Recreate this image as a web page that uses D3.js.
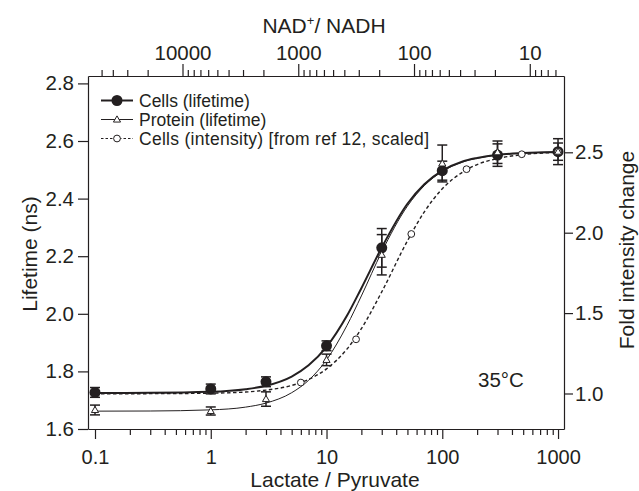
<!DOCTYPE html>
<html>
<head>
<meta charset="utf-8">
<script src="https://cdn.jsdelivr.net/npm/d3@7"></script>
<style>
  body { margin: 0; background: #fff; }
  svg text { font-family: "Liberation Sans", Arial, sans-serif; fill: #231f20; }
</style>
</head>
<body>
<svg id="chart"></svg>
<script>
// Measured points (lactate / pyruvate ratio on x)
const lacPyr = [0.1, 1, 3, 10, 30, 100, 300, 1000]
const cellsLifetime = [1.727, 1.739, 1.764, 1.889, 2.229, 2.497, 2.551, 2.563]
const cellsErr = [0.017, 0.017, 0.017, 0.017, 0.067, 0.033, 0.039, 0.045]
const proteinLifetime = [1.666, 1.6625, 1.704, 1.840, 2.205, 2.522, 2.561, 2.563]
const proteinErr = [0.017, 0.014, 0.025, 0.02, 0.07, 0.064, 0.039, 0.03]

// Intensity data from ref 12 (fold change, right axis)
const intensityRatio = [6, 18, 54, 162, 486, 1000]
const intensityFold = [1.068, 1.337, 1.992, 2.395, 2.488, 2.504]

// Fitted curves
const fitX = [0.1, 0.3, 1, 2, 3, 5, 7, 10, 15, 20, 30, 50, 70, 100, 150, 200, 300, 500, 1000]
const cellsFit = [1.725, 1.7255, 1.729, 1.738, 1.750, 1.782, 1.821, 1.885, 1.993, 2.089, 2.230, 2.382, 2.450, 2.497, 2.529, 2.541, 2.552, 2.558, 2.562]
const proteinFit = [1.662, 1.6625, 1.6665, 1.676, 1.690, 1.726, 1.769, 1.840, 1.959, 2.062, 2.215, 2.374, 2.445, 2.494, 2.527, 2.540, 2.551, 2.558, 2.562]
const intensityFit = [0.998, 0.999, 1.002, 1.009, 1.021, 1.050, 1.088, 1.153, 1.276, 1.403, 1.632, 1.949, 2.130, 2.273, 2.377, 2.424, 2.461, 2.486, 2.499]

// Axis ticks
const xLabels = [0.1, 1, 10, 100, 1000]
const topLabels = [10000, 1000, 100, 10]
const leftTicks = [1.6, 1.8, 2.0, 2.2, 2.4, 2.6, 2.8]
const rightTicks = [1.0, 1.5, 2.0, 2.5]
const nadConstant = 5700 // NAD+/NADH = k / (lactate/pyruvate)

const legendItems = ["Cells (lifetime)", "Protein (lifetime)", "Cells (intensity) [from ref 12, scaled]"]

const width = 639
const height = 491
const margin = { top: 76, right: 75, bottom: 62, left: 88 }
const innerW = width - margin.left - margin.right
const innerH = height - margin.top - margin.bottom

const svg = d3.select("#chart")
  .attr("width", width)
  .attr("height", height)

const g = svg.append("g")
  .attr("transform", `translate(${margin.left},${margin.top})`)

// Scales
const x = d3.scaleLog().domain([0.087, 1126]).range([0, innerW])
const xTop = d3.scaleLog().domain([nadConstant / 0.087, nadConstant / 1126]).range([0, innerW])
const y = d3.scaleLinear().domain([1.6, 2.8257]).range([innerH, 0])
const y2 = d3.scaleLinear().domain([0.7792, 2.9745]).range([innerH, 0])

// log minor ticks helper
const logTicks = (lo, hi) => {
  const out = []
  for (let e = Math.floor(Math.log10(lo)); e <= Math.ceil(Math.log10(hi)); e++) {
    for (let m = 1; m < 10; m++) {
      const v = m * Math.pow(10, e)
      if (v >= lo * 0.999 && v <= hi * 1.001) out.push(+v.toPrecision(6))
    }
  }
  return out
}
const isMajor = v => Math.abs(Math.log10(v) - Math.round(Math.log10(v))) < 1e-6

// Bottom axis
g.append("g")
  .attr("transform", `translate(0,${innerH})`)
  .call(d3.axisBottom(x)
    .tickValues(logTicks(0.1, 1000))
    .tickSize(10)
    .tickSizeOuter(0)
    .tickFormat(d => xLabels.includes(d) ? String(d) : ""))
  .call(ax => ax.selectAll(".tick line").attr("y2", d => isMajor(d) ? 10 : 6))
  .call(ax => ax.selectAll(".tick text").attr("y", 21).attr("font-size", 20))

// Top axis (NAD+/NADH)
g.append("g")
  .call(d3.axisTop(xTop)
    .tickValues(logTicks(6, 50000))
    .tickSize(12)
    .tickSizeOuter(0)
    .tickFormat(d => topLabels.includes(d) ? String(d) : ""))
  .call(ax => ax.selectAll(".tick line").attr("y2", d => isMajor(d) ? -12 : -6))
  .call(ax => ax.selectAll(".tick text").attr("y", -16).attr("font-size", 20.5))

// Left axis
g.append("g")
  .call(d3.axisLeft(y)
    .tickValues(leftTicks)
    .tickSize(10)
    .tickPadding(4)
    .tickSizeOuter(0)
    .tickFormat(d3.format(".1f")))
  .call(ax => ax.selectAll(".tick text").attr("font-size", 20.5))

// Right axis
g.append("g")
  .attr("transform", `translate(${innerW},0)`)
  .call(d3.axisRight(y2)
    .tickValues(rightTicks)
    .tickSize(9)
    .tickPadding(2)
    .tickSizeOuter(0)
    .tickFormat(d3.format(".1f")))
  .call(ax => ax.selectAll(".tick text").attr("font-size", 20.5))

g.selectAll(".domain").attr("stroke", "#231f20").attr("stroke-width", 1.2)
g.selectAll(".tick line").attr("stroke", "#231f20").attr("stroke-width", 1.2)

// Fitted curves
const fitLine = (vals, scale) => d3.line()
  .x((d, i) => x(fitX[i]))
  .y(d => scale(d))
  .curve(d3.curveMonotoneX)(vals)

g.append("path")
  .attr("d", fitLine(intensityFit, y2))
  .attr("fill", "none")
  .attr("stroke", "#231f20")
  .attr("stroke-width", 1.4)
  .attr("stroke-dasharray", "3.5,2.5")

g.append("path")
  .attr("d", fitLine(proteinFit, y))
  .attr("fill", "none")
  .attr("stroke", "#231f20")
  .attr("stroke-width", 1)

g.append("path")
  .attr("d", fitLine(cellsFit, y))
  .attr("fill", "none")
  .attr("stroke", "#231f20")
  .attr("stroke-width", 2)

// Error bars
const drawErrors = (vals, errs) => {
  const eb = g.append("g")
    .selectAll("g")
    .data(lacPyr)
    .join("g")
    .attr("stroke", "#231f20")
    .attr("stroke-width", 1.5)
  eb.append("line")
    .attr("x1", d => x(d)).attr("x2", d => x(d))
    .attr("y1", (d, i) => y(vals[i] + errs[i]))
    .attr("y2", (d, i) => y(vals[i] - errs[i]))
  eb.append("line")
    .attr("x1", d => x(d) - 5).attr("x2", d => x(d) + 5)
    .attr("y1", (d, i) => y(vals[i] + errs[i]))
    .attr("y2", (d, i) => y(vals[i] + errs[i]))
  eb.append("line")
    .attr("x1", d => x(d) - 5).attr("x2", d => x(d) + 5)
    .attr("y1", (d, i) => y(vals[i] - errs[i]))
    .attr("y2", (d, i) => y(vals[i] - errs[i]))
}
drawErrors(cellsLifetime, cellsErr)
drawErrors(proteinLifetime, proteinErr)

// Cells (lifetime) markers
g.append("g")
  .selectAll("circle")
  .data(lacPyr)
  .join("circle")
  .attr("cx", d => x(d))
  .attr("cy", (d, i) => y(cellsLifetime[i]))
  .attr("r", 5.5)
  .attr("fill", "#231f20")

// Cells (intensity) markers
g.append("g")
  .selectAll("circle")
  .data(intensityRatio)
  .join("circle")
  .attr("cx", d => x(d))
  .attr("cy", (d, i) => y2(intensityFold[i]))
  .attr("r", 3.4)
  .attr("fill", "#fff")
  .attr("stroke", "#231f20")
  .attr("stroke-width", 1)

// Protein markers
const tri = d3.symbol().type(d3.symbolTriangle).size(22)
g.append("g")
  .selectAll("path")
  .data(lacPyr)
  .join("path")
  .attr("d", tri)
  .attr("transform", (d, i) => `translate(${x(d)},${y(proteinLifetime[i]) + 0.5})`)
  .attr("fill", "#fff")
  .attr("stroke", "#231f20")
  .attr("stroke-width", 1)

// Legend
const legend = g.append("g").attr("transform", "translate(13,24.5)")
const rowH = 19
legendItems.forEach((label, i) => {
  const row = legend.append("g").attr("transform", `translate(0,${i * rowH})`)
  row.append("line")
    .attr("x1", 0).attr("x2", 32)
    .attr("stroke", "#231f20")
    .attr("stroke-width", i === 0 ? 2 : 1)
    .attr("stroke-dasharray", i === 2 ? "2.5,2" : null)
  if (i === 0) row.append("circle").attr("cx", 16).attr("r", 5.5).attr("fill", "#231f20")
  if (i === 1) row.append("path").attr("d", tri).attr("transform", "translate(16,0.5)")
    .attr("fill", "#fff").attr("stroke", "#231f20")
  if (i === 2) row.append("circle").attr("cx", 16).attr("r", 3.4)
    .attr("fill", "#fff").attr("stroke", "#231f20")
  row.append("text")
    .attr("x", 38)
    .attr("y", 6)
    .attr("font-size", 17.5)
    .attr("textLength", i === 2 ? 290 : null)
    .text(label)
})

// Temperature note
g.append("text")
  .attr("x", 390)
  .attr("y", 311)
  .attr("font-size", 20.5)
  .text("35°C")

// Axis titles
svg.append("text")
  .attr("transform", "translate(37,254) rotate(-90)")
  .attr("text-anchor", "middle")
  .attr("font-size", 21)
  .text("Lifetime (ns)")

svg.append("text")
  .attr("transform", "translate(634,250) rotate(-90)")
  .attr("text-anchor", "middle")
  .attr("font-size", 21)
  .text("Fold intensity change")

svg.append("text")
  .attr("x", 335)
  .attr("y", 487)
  .attr("text-anchor", "middle")
  .attr("font-size", 21)
  .text("Lactate / Pyruvate")

const topTitle = svg.append("text")
  .attr("x", 324)
  .attr("y", 33)
  .attr("text-anchor", "middle")
  .attr("font-size", 21)
topTitle.append("tspan").text("NAD")
topTitle.append("tspan").attr("font-size", 13).attr("dy", -8).text("+")
topTitle.append("tspan").attr("dy", 8).text("/ NADH")
</script>
</body>
</html>
